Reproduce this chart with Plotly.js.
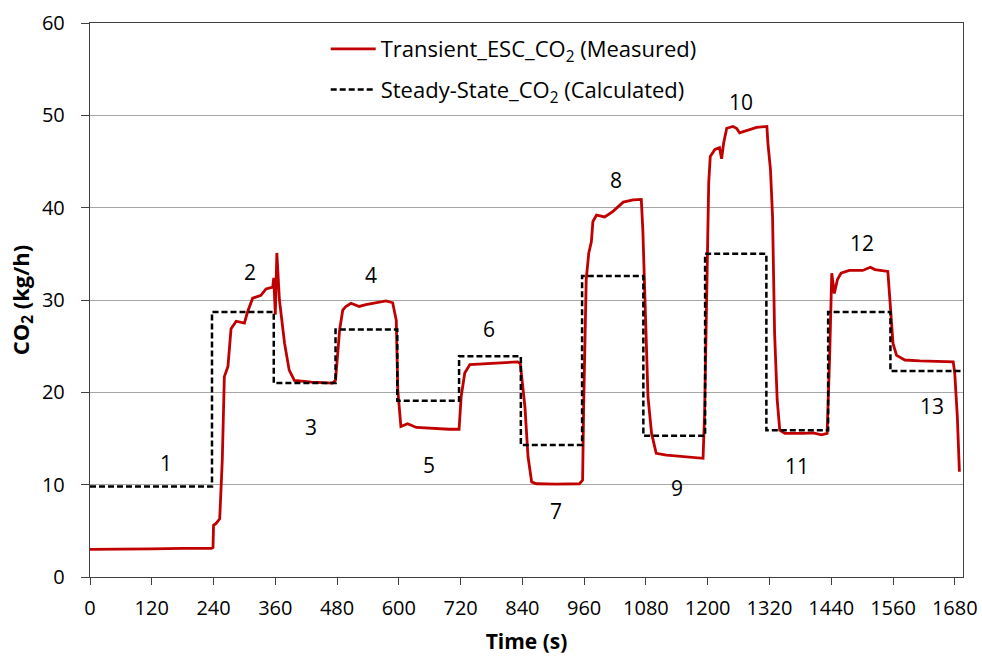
<!DOCTYPE html>
<html>
<head>
<meta charset="utf-8">
<script src="https://cdn.plot.ly/plotly-3.0.1.min.js"></script>
<style>html,body{margin:0;padding:0;background:#fff;}#chart{width:982px;height:657px;}</style>
</head>
<body>
<div id="chart"></div>
<script>
// Measured transient CO2 (kg/h) vs time (s)
var measTime = [0,60,120,180,236,239,240,245,252,257,261,268,274,284,300,306,316,332,342,355,357,360,363,368,378,387,397,430,471,477,485,491,497,507,523,536,562,575,588,595,598,604,617,634,698,717,721,728,738,776,831,836,845,851,858,867,906,951,957,959,962,964,969,974,977,984,1000,1016,1036,1055,1071,1074,1080,1084,1091,1100,1120,1159,1191,1194,1198,1202,1205,1214,1223,1227,1231,1237,1249,1256,1262,1279,1295,1315,1317,1322,1326,1330,1335,1340,1350,1385,1405,1421,1432,1437,1441,1446,1452,1459,1475,1501,1516,1525,1550,1554,1560,1567,1583,1612,1657,1677,1680,1685,1689];
var measCO2 = [3.0,3.0,3.05,3.1,3.1,3.2,5.6,5.8,6.3,12.7,21.7,22.8,26.9,27.7,27.5,28.7,30.2,30.5,31.2,31.4,32.4,28.4,35.1,30.0,25.3,22.4,21.3,21.1,21.0,21.3,26.8,28.9,29.3,29.65,29.3,29.5,29.8,29.9,29.7,27.8,20.2,16.3,16.6,16.2,16.0,16.0,19.5,22.1,23.0,23.15,23.3,23.1,18.4,13.0,10.3,10.1,10.05,10.1,10.5,18.4,25.7,32.2,35.1,36.3,38.5,39.2,39.0,39.6,40.6,40.85,40.9,37.6,26.8,19.5,15.55,13.4,13.2,13.0,12.85,17.7,30.0,42.7,45.55,46.3,46.5,45.3,47.0,48.6,48.8,48.6,48.1,48.45,48.7,48.8,47.0,44.1,39.0,26.4,19.2,15.9,15.55,15.55,15.6,15.4,15.55,24.0,32.9,30.7,32.2,32.9,33.2,33.2,33.55,33.3,33.1,30.0,25.3,24.0,23.5,23.4,23.3,23.3,22.05,17.35,11.4];

// Steady-state calculated CO2 (step values)
var ssTime = [0,237,357,477,597,717,837,956,1075,1195,1314,1434,1555,1693];
var ssCO2  = [9.8,28.7,21.0,26.8,19.1,23.9,14.3,32.6,15.3,35.0,15.9,28.7,22.3,22.3];

// Mode labels
var modeLabels = ["1","2","3","4","5","6","7","8","9","10","11","12","13"];
var modeX = [147,310,429,545,658,775,905,1021,1140,1264,1373,1499,1635];
var modeY = [12.4,33.0,16.3,32.7,12.1,26.9,7.2,43.0,9.6,51.4,12.0,36.2,18.5];

var xTicks = [0,120,240,360,480,600,720,840,960,1080,1200,1320,1440,1560,1680];
var yTicks = [0,10,20,30,40,50,60];

var FONT = '"Open Sans", "Noto Sans", sans-serif';

var traces = [
  {x: measTime, y: measCO2, type: 'scatter', mode: 'lines',
   name: 'Transient_ESC_CO<sub>2</sub> (Measured)', legendgroup: 'a',
   line: {color: '#c00000', width: 2.8}},
  {x: ssTime, y: ssCO2, type: 'scatter', mode: 'lines',
   name: 'Steady-State_CO<sub>2</sub> (Calculated)', legendgroup: 'b',
   line: {color: '#000000', width: 2.5, dash: '6px,3px', shape: 'hv'}}
];

var annotations = modeLabels.map(function(t, i){
  return {x: modeX[i], y: modeY[i], xref: 'x', yref: 'y', text: t, showarrow: false,
          font: {family: FONT, size: 21, color: '#000'}};
});

var layout = {
  width: 982, height: 657,
  margin: {l: 90, r: 19, t: 23, b: 80},
  paper_bgcolor: '#fff', plot_bgcolor: '#fff',
  font: {family: FONT, size: 20, color: '#000'},
  showlegend: true,
  legend: {x: 0.27, y: 0.991, xanchor: 'left', yanchor: 'top', itemwidth: 45,
           bgcolor: 'rgba(0,0,0,0)', traceorder: 'grouped', tracegroupgap: 9,
           font: {family: FONT, size: 22, color: '#000'}},
  xaxis: {range: [0, 1696], tickmode: 'array', tickvals: xTicks, ticktext: xTicks.map(String),
          ticks: 'outside', ticklen: 7, tickcolor: '#404040', tickwidth: 1,
          showline: true, linecolor: '#404040', linewidth: 1.2, mirror: true,
          showgrid: false, zeroline: false, ticklabelstandoff: 6,
          title: {text: '<b>Time (s)</b>', font: {family: FONT, size: 21}, standoff: 14}},
  yaxis: {range: [0, 60], tickmode: 'array', tickvals: yTicks, ticktext: yTicks.map(String),
          ticks: 'outside', ticklen: 8, tickcolor: '#404040', tickwidth: 1,
          showline: true, linecolor: '#404040', linewidth: 1.2, mirror: true,
          showgrid: true, gridcolor: '#a6a6a6', gridwidth: 1, zeroline: false,
          ticklabelstandoff: 12,
          title: {text: '<b>CO<sub>2</sub> (kg/h)</b>', font: {family: FONT, size: 22}, standoff: 6}},
  annotations: annotations
};

Plotly.newPlot('chart', traces, layout, {staticPlot: true, displayModeBar: false});
</script>
</body>
</html>
